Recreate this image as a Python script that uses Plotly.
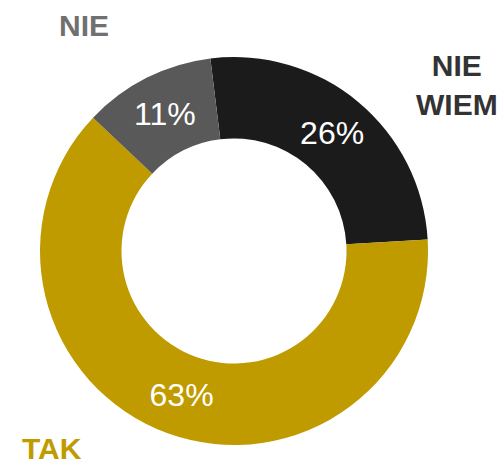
import plotly.graph_objects as go

labels = ["NIE WIEM", "TAK", "NIE"]
values = [26, 63, 11]
colors = ["#1B1B1B", "#BF9B00", "#595959"]
label_colors = ["#333333", "#BF9B00", "#707070"]
label_text = ["NIE<br>WIEM", "TAK", "NIE"]
label_pos = [(1.075, 0.928), (0.031, -0.008), (0.113, 1.082)]

fig = go.Figure(go.Pie(
    labels=labels,
    values=values,
    hole=0.58,
    sort=False,
    direction="clockwise",
    rotation=-7,
    marker=dict(colors=colors, line=dict(width=0)),
    texttemplate="%{value}%",
    textposition="inside",
    insidetextorientation="horizontal",
    insidetextfont=dict(family="Liberation Sans, Arial", size=32, color="white"),
    showlegend=False,
    hoverinfo="label+value",
))

for txt, col, (x, y) in zip(label_text, label_colors, label_pos):
    fig.add_annotation(
        x=x, y=y, xref="paper", yref="paper",
        text="<b>" + txt + "</b>", showarrow=False,
        font=dict(family="Liberation Sans, Arial", size=30, color=col),
        xanchor="center", yanchor="middle", align="center",
    )

fig.update_layout(
    width=503, height=460,
    margin=dict(l=40, r=75, t=57, b=15),
    paper_bgcolor="white", plot_bgcolor="white",
)

fig.write_html(
    "out.html",
    config={"displayModeBar": False},
    post_script="document.body.style.margin='0';document.body.style.overflow='hidden';",
)
